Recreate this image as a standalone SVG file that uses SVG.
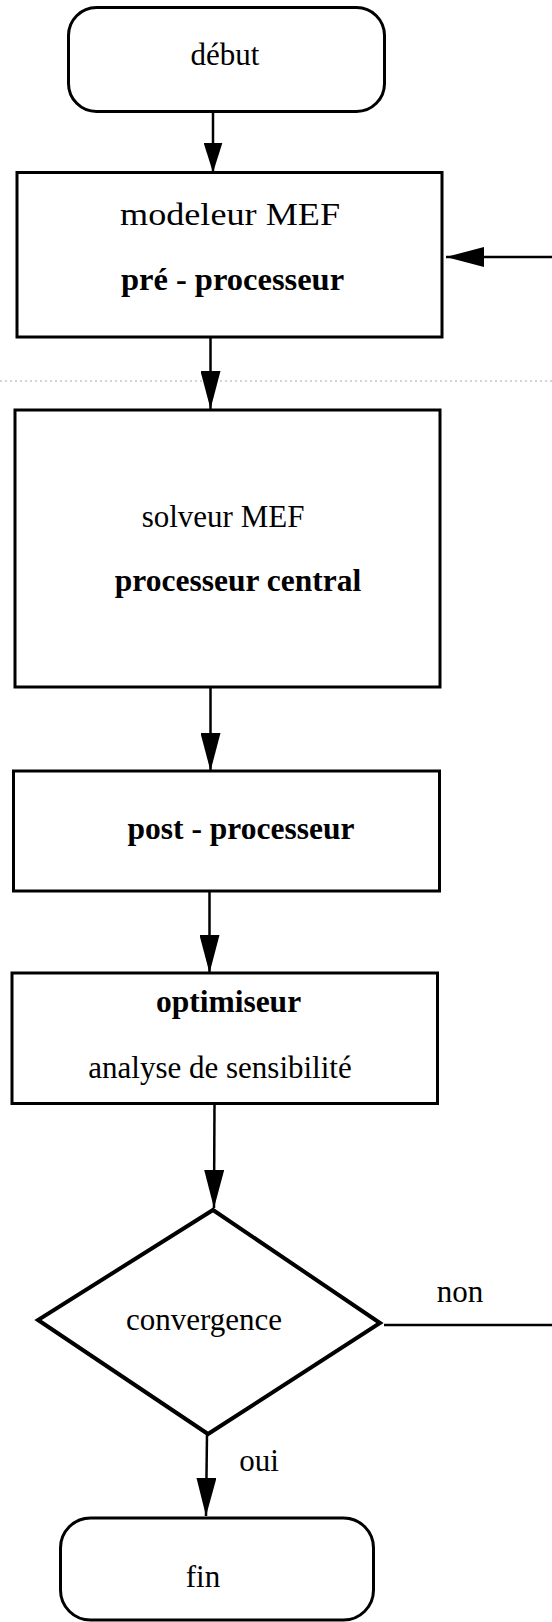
<svg xmlns="http://www.w3.org/2000/svg" width="552" height="1622" viewBox="0 0 552 1622">
<style>
.box{fill:#fff;stroke:#000;stroke-width:3}
.dia{fill:#fff;stroke:#000;stroke-width:4;stroke-linejoin:miter}
.t{font-family:"Liberation Serif","Times New Roman",serif;font-size:31px;fill:#000;text-anchor:middle}
.b{font-weight:bold;font-size:31.5px}
.ln{stroke:#000;stroke-width:2.5;fill:none}
.dot{stroke:#aaa;stroke-width:1;stroke-dasharray:2 3;fill:none}
</style>
<defs>
<marker id="ah" markerUnits="userSpaceOnUse" markerWidth="38" markerHeight="20" viewBox="0 0 38 20" refX="38" refY="10" orient="auto">
<path d="M0,0 L38,10 L0,20 z" fill="#000"/>
</marker>
<marker id="ahs" markerUnits="userSpaceOnUse" markerWidth="30" markerHeight="19" viewBox="0 0 30 19" refX="30" refY="9.5" orient="auto">
<path d="M0,0 L30,9.5 L0,19 z" fill="#000"/>
</marker>
</defs>
<rect width="552" height="1622" fill="#fff"/>
<line class="dot" x1="0" y1="381" x2="552" y2="381"/>
<g id="connectors">
<line class="ln" x1="213" y1="112" x2="213" y2="172.5" marker-end="url(#ahs)"/>
<line class="ln" x1="210.5" y1="337" x2="210.5" y2="409" marker-end="url(#ah)"/>
<line class="ln" x1="210.5" y1="687" x2="210.5" y2="771" marker-end="url(#ah)"/>
<line class="ln" x1="209.5" y1="891" x2="209.5" y2="973" marker-end="url(#ah)"/>
<line class="ln" x1="214.5" y1="1103" x2="214" y2="1208" marker-end="url(#ah)"/>
<line class="ln" x1="207" y1="1434" x2="206" y2="1516" marker-end="url(#ah)"/>
<line class="ln" x1="384" y1="1325" x2="552" y2="1325"/>
<line class="ln" x1="552" y1="257" x2="446" y2="257" marker-end="url(#ah)"/>
<text class="t" x="460" y="1302">non</text>
<text class="t" x="259" y="1471">oui</text>
</g>
<g id="debut">
<rect class="box" x="68.5" y="7.5" width="316" height="104" rx="28" ry="28"/>
<text class="t" x="225" y="65">début</text>
</g>
<g id="preprocesseur">
<rect class="box" x="17" y="172.5" width="425" height="164.5"/>
<text class="t" x="230" y="225" font-size="33" textLength="220" lengthAdjust="spacingAndGlyphs">modeleur MEF</text>
<text class="t b" x="232.5" y="290" style="font-size:32.5px">pré - processeur</text>
</g>
<g id="solveur">
<rect class="box" x="15" y="410" width="425" height="277"/>
<text class="t" x="223" y="527">solveur MEF</text>
<text class="t b" x="238" y="591">processeur central</text>
</g>
<g id="postprocesseur">
<rect class="box" x="13.5" y="771" width="426" height="120"/>
<text class="t b" x="241" y="839">post - processeur</text>
</g>
<g id="optimiseur">
<rect class="box" x="12" y="973" width="425.5" height="130.5"/>
<text class="t b" x="228.5" y="1012">optimiseur</text>
<text class="t" x="220" y="1078">analyse de sensibilité</text>
</g>
<g id="convergence">
<polygon class="dia" points="213,1210 380,1323 208,1434 38,1320"/>
<text class="t" x="204" y="1330">convergence</text>
</g>
<g id="fin">
<rect class="box" x="60.5" y="1518" width="313" height="102" rx="30" ry="30"/>
<text class="t" x="203" y="1587">fin</text>
</g>
</svg>
